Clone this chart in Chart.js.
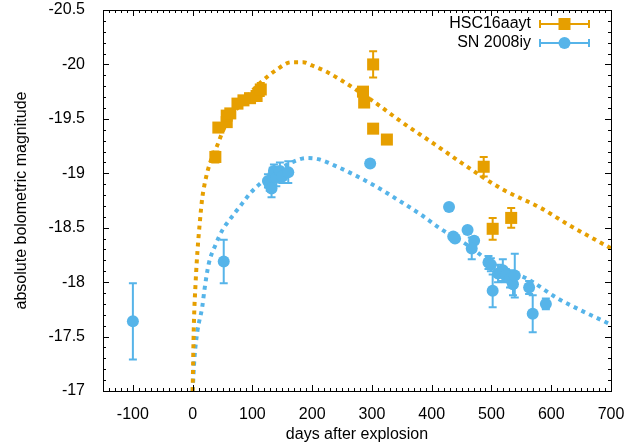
<!DOCTYPE html>
<html>
<head>
<meta charset="utf-8">
<script src="https://cdn.jsdelivr.net/npm/chart.js@4"></script>
<style>
html,body{margin:0;padding:0;background:#fff;}
#wrap{width:644px;height:446px;}
</style>
</head>
<body>
<div id="wrap"><canvas id="c" width="644" height="446"></canvas></div>
<script>
// ---- data ----
const hscX   = [38, 43, 57, 57, 63, 75, 85, 96, 107, 114, 285, 287, 302, 302, 325, 487, 502, 533];
const hscY   = [-19.15, -19.42, -19.47, -19.53, -19.55, -19.64, -19.67, -19.69, -19.71, -19.77, -19.75, -19.65, -20.0, -19.41, -19.31, -19.06, -18.49, -18.59];
const hscErr = [0.05, 0.03, 0.03, 0.03, 0.03, 0.03, 0.03, 0.03, 0.03, 0.06, 0.03, 0.03, 0.12, 0.03, 0.03, 0.09, 0.1, 0.09];

const snX   = [-100, 52, 126, 129, 132, 134, 136, 140, 146, 150, 160, 297, 429, 436, 439, 460, 471, 467, 495, 499, 502, 511, 519, 524, 531, 536, 539, 563, 569, 591];
const snY   = [-17.64, -18.19, -18.93, -18.90, -18.86, -18.97, -19.02, -18.96, -19.02, -18.97, -19.01, -19.09, -18.69, -18.42, -18.40, -18.48, -18.38, -18.31, -18.18, -18.16, -17.92, -18.08, -18.11, -18.06, -18.03, -17.98, -18.06, -17.95, -17.71, -17.80];
const snErr = [0.35, 0.2, 0.06, 0.06, 0.08, 0.08, 0.06, 0.08, 0.08, 0.06, 0.1, 0.02, 0.02, 0.02, 0.02, 0.02, 0.03, 0.1, 0.06, 0.06, 0.15, 0.08, 0.1, 0.06, 0.08, 0.1, 0.2, 0.06, 0.17, 0.05];

const modelHscX = [0, 2, 5, 8, 12, 16, 20, 25, 32, 40, 50, 60, 75, 95, 117, 140, 165, 185, 200, 225, 250, 300, 350, 404, 454, 516, 583, 628, 700];
const modelHscY = [-17.0, -17.6, -18.0, -18.28, -18.55, -18.77, -18.9, -19.02, -19.14, -19.24, -19.38, -19.49, -19.6, -19.73, -19.85, -19.95, -20.02, -20.02, -19.99, -19.93, -19.85, -19.67, -19.47, -19.27, -19.08, -18.86, -18.68, -18.53, -18.31];

const modelSnX = [0, 3, 8, 16, 20, 27, 38, 50, 60, 77, 97, 114, 140, 170, 190, 210, 242, 300, 348, 382, 415, 460, 505, 560, 611, 650, 700];
const modelSnY = [-17.0, -17.3, -17.55, -17.77, -17.94, -18.17, -18.34, -18.48, -18.56, -18.68, -18.82, -18.91, -19.02, -19.11, -19.14, -19.13, -19.06, -18.9, -18.74, -18.62, -18.49, -18.34, -18.16, -18.03, -17.85, -17.74, -17.61];

const xTicks = [-100, 0, 100, 200, 300, 400, 500, 600, 700];
const yTicks = [-20.5, -20, -19.5, -19, -18.5, -18, -17.5, -17];
const seriesNames = ['HSC16aayt', 'SN 2008iy'];
const xTitle = 'days after explosion';
const yTitle = 'absolute bolometric magnitude';

// ---- styling ----
const ORANGE = '#E69F00';
const BLUE = '#56B4E9';
const FONT = '"Liberation Sans", Arial, sans-serif';

function pts(xs, ys, es) { return xs.map((x, i) => (es ? {x: x, y: ys[i], e: es[i]} : {x: x, y: ys[i]})); }

const errorBars = {
  id: 'errorBars',
  beforeDatasetDraw(chart, args) {
    const ds = chart.data.datasets[args.index];
    if (!ds.errorBars) return;
    const xs = chart.scales.x, ys = chart.scales.y, ctx = chart.ctx;
    ctx.save();
    ctx.strokeStyle = ds.borderColor;
    ctx.lineWidth = 2;
    ds.data.forEach(p => {
      const px = xs.getPixelForValue(p.x);
      const y1 = ys.getPixelForValue(p.y - p.e);
      const y2 = ys.getPixelForValue(p.y + p.e);
      ctx.beginPath();
      ctx.moveTo(px, y1); ctx.lineTo(px, y2);
      ctx.moveTo(px - 4, y1); ctx.lineTo(px + 4, y1);
      ctx.moveTo(px - 4, y2); ctx.lineTo(px + 4, y2);
      ctx.stroke();
    });
    ctx.restore();
  }
};

const frame = {
  id: 'frame',
  afterDraw(chart) {
    const {ctx, chartArea: a} = chart;
    const xs = chart.scales.x, ys = chart.scales.y;
    ctx.save();
    ctx.strokeStyle = '#000';
    ctx.lineWidth = 1;
    ctx.beginPath();
    for (let v = -150; v <= 700; v += 10) {
      const px = Math.round(xs.getPixelForValue(v)) + 0.5;
      const major = xTicks.includes(v);
      const L = major ? 6 : 3;
      ctx.moveTo(px, a.bottom); ctx.lineTo(px, a.bottom - L);
      ctx.moveTo(px, a.top); ctx.lineTo(px, a.top + L);
    }
    for (let i = 0; i <= 35; i++) {
      const v = -20.5 + i * 0.1;
      const py = Math.round(ys.getPixelForValue(v)) + 0.5;
      const major = i % 5 === 0;
      const L = major ? 6 : 3;
      ctx.moveTo(a.left, py); ctx.lineTo(a.left + L, py);
      ctx.moveTo(a.right, py); ctx.lineTo(a.right - L, py);
    }
    ctx.stroke();
    ctx.strokeRect(Math.round(a.left) + 0.5, Math.round(a.top) + 0.5, Math.round(a.right - a.left), Math.round(a.bottom - a.top));

    // legend
    ctx.font = '16px ' + FONT;
    ctx.textAlign = 'right';
    ctx.textBaseline = 'middle';
    const items = [
      {name: seriesNames[0], color: ORANGE, style: 'rect', y: a.top + 14},
      {name: seriesNames[1], color: BLUE, style: 'circle', y: a.top + 33}
    ];
    items.forEach(it => {
      ctx.fillStyle = '#000';
      ctx.fillText(it.name, a.left + 428, it.y);
      const x1 = a.left + 437, x2 = a.left + 486, xm = (x1 + x2) / 2;
      ctx.strokeStyle = it.color; ctx.lineWidth = 2;
      ctx.beginPath();
      ctx.moveTo(x1, it.y); ctx.lineTo(x2, it.y);
      ctx.moveTo(x1, it.y - 4); ctx.lineTo(x1, it.y + 4);
      ctx.moveTo(x2, it.y - 4); ctx.lineTo(x2, it.y + 4);
      ctx.stroke();
      ctx.fillStyle = it.color;
      if (it.style === 'rect') ctx.fillRect(xm - 6, it.y - 6, 12, 12);
      else { ctx.beginPath(); ctx.arc(xm, it.y, 6, 0, Math.PI * 2); ctx.fill(); }
    });
    ctx.restore();
  }
};

new Chart(document.getElementById('c'), {
  type: 'scatter',
  data: {
    datasets: [
      {label: seriesNames[0], data: pts(hscX, hscY, hscErr), errorBars: true,
       backgroundColor: ORANGE, borderColor: ORANGE, pointStyle: 'rect', pointRadius: 8.5, pointBorderWidth: 0, order: 1},
      {label: seriesNames[1], data: pts(snX, snY, snErr), errorBars: true,
       backgroundColor: BLUE, borderColor: BLUE, pointStyle: 'circle', pointRadius: 6, pointBorderWidth: 0, order: 2},
      {label: 'model1', data: pts(modelHscX, modelHscY), showLine: true, pointRadius: 0,
       borderColor: ORANGE, borderWidth: 4, borderDash: [4, 4.5], cubicInterpolationMode: 'monotone', fill: false, order: 3},
      {label: 'model2', data: pts(modelSnX, modelSnY), showLine: true, pointRadius: 0,
       borderColor: BLUE, borderWidth: 4, borderDash: [4, 4.5], cubicInterpolationMode: 'monotone', fill: false, order: 4}
    ]
  },
  options: {
    responsive: false,
    animation: false,
    layout: {padding: {top: 10, right: 33, left: 0, bottom: 0}},
    plugins: {legend: {display: false}, tooltip: {enabled: false}},
    scales: {
      x: {
        type: 'linear', min: -150, max: 700,
        grid: {display: false}, border: {display: false},
        afterBuildTicks: s => { s.ticks = xTicks.map(v => ({value: v})); },
        afterFit: s => { s.height = 55; s.paddingLeft = 0; s.paddingRight = 0; },
        ticks: {color: '#000', font: {family: FONT, size: 16}, padding: 6, maxRotation: 0, autoSkip: false, callback: v => String(v)},
        title: {display: true, text: xTitle, color: '#000', font: {family: FONT, size: 16}, padding: {top: 0, bottom: 2}}
      },
      y: {
        type: 'linear', min: -20.5, max: -17, reverse: true,
        grid: {display: false}, border: {display: false},
        afterBuildTicks: s => { s.ticks = yTicks.map(v => ({value: v})); },
        afterFit: s => { s.width = 103; s.paddingTop = 0; s.paddingBottom = 0; },
        ticks: {color: '#000', font: {family: FONT, size: 16}, padding: 10, autoSkip: false, callback: v => String(v)},
        title: {display: true, text: yTitle, color: '#000', font: {family: FONT, size: 16}, padding: {top: 12, bottom: 0}}
      }
    }
  },
  plugins: [errorBars, frame]
});
</script>
</body>
</html>
